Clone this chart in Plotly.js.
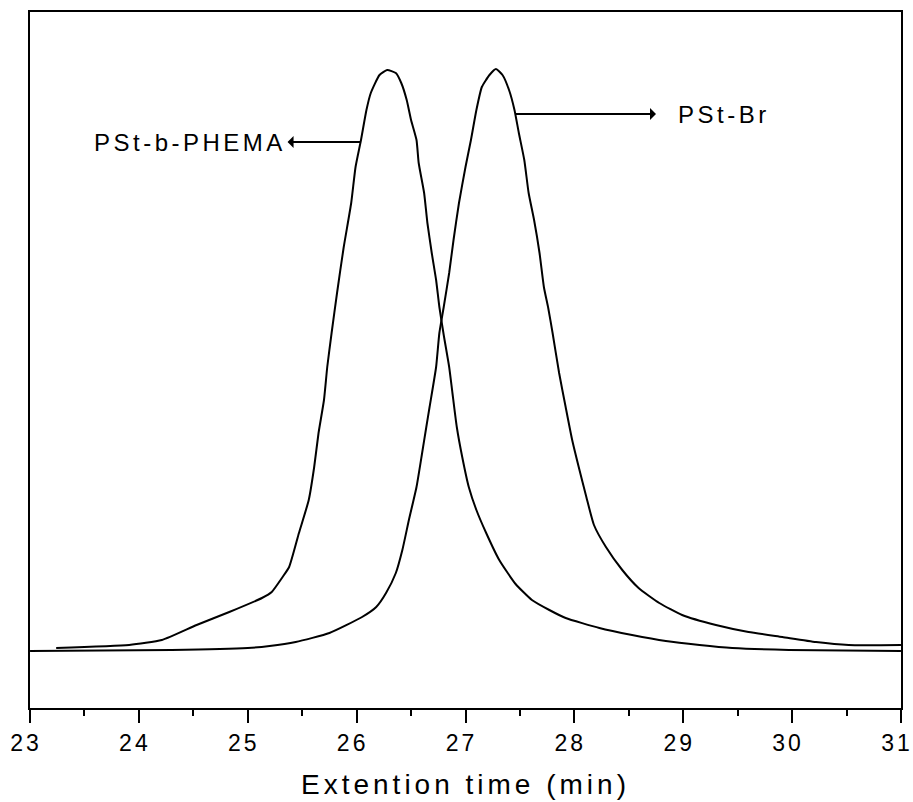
<!DOCTYPE html>
<html>
<head>
<meta charset="utf-8">
<script src="https://cdn.plot.ly/plotly-3.0.1.min.js"></script>
<style>
  html, body { margin: 0; padding: 0; background: #fff; }
  #chart { width: 913px; height: 802px; }
  .xtick text { letter-spacing: 3px; }
  .xtitle { letter-spacing: 4px; }
  .annotation-text { letter-spacing: 3.5px; }
</style>
</head>
<body>
<div id="chart"></div>
<script>
// PSt-b-PHEMA trace (elution time in min, detector response in arbitrary units)
const phemaTime = [23.24, 23.91, 24.21, 24.53, 24.83, 25.13, 25.22, 25.32, 25.38, 25.47, 25.56, 25.61, 25.65, 25.70, 25.73, 25.77, 25.82, 25.88, 25.95, 25.99, 26.04, 26.09, 26.13, 26.21, 26.28, 26.36, 26.41, 26.46, 26.50, 26.55, 26.57, 26.62, 26.65, 26.69, 26.73, 26.76, 26.80, 26.85, 26.88, 26.92, 26.97, 27.03, 27.10, 27.19, 27.31, 27.46, 27.61, 27.77, 27.92, 28.23, 28.53, 28.84, 29.15, 29.45, 29.97, 31.00];
const phemaSignal = [60, 63, 68, 83, 96, 110, 116, 131, 141, 175, 208, 241, 275, 308, 341, 375, 415, 460, 505, 541, 568, 598, 615, 633, 638, 635, 625, 608, 588, 568, 545, 515, 485, 455, 428, 401, 373, 341, 315, 281, 251, 221, 198, 175, 148, 124, 108, 98, 90, 80, 73, 67, 63, 60, 58, 57];

// PSt-Br trace
const brTime = [23.00, 24.30, 25.00, 25.20, 25.44, 25.75, 26.05, 26.18, 26.27, 26.36, 26.42, 26.48, 26.55, 26.60, 26.64, 26.67, 26.73, 26.76, 26.80, 26.85, 26.89, 26.94, 27.00, 27.05, 27.10, 27.15, 27.22, 27.28, 27.34, 27.40, 27.45, 27.49, 27.54, 27.58, 27.63, 27.68, 27.72, 27.76, 27.80, 27.86, 27.92, 27.98, 28.04, 28.11, 28.18, 28.29, 28.44, 28.59, 28.78, 28.99, 29.30, 29.60, 29.91, 30.22, 30.52, 31.00];
const brSignal = [57, 58, 60, 62, 66, 75, 91, 101, 115, 135, 158, 188, 221, 254, 281, 301, 341, 375, 401, 435, 468, 505, 541, 568, 598, 621, 633, 639, 633, 618, 598, 575, 548, 515, 488, 455, 421, 400, 375, 335, 301, 268, 241, 211, 183, 161, 138, 120, 105, 93, 83, 76, 71, 66, 63, 63];

// Axis ticks and labels
const tickValues = [23, 24, 25, 26, 27, 28, 29, 30, 31];
const tickLabels = ['23', '24', '25', '26', '27', '28', '29', '30', '31'];
const xTitle = 'Extention time (min)';

// Curve labels: text, point on curve (x, y), label x position
const labelNames = ['PSt-b-PHEMA', 'PSt-Br'];
const labelPointX = [26.04, 27.46];
const labelPointY = [566, 594];
const labelTextX = [24.47, 29.37];
const labelGap = [0, 20];

const font = 'Liberation Sans, Arial, sans-serif';

const traces = [
  { x: phemaTime, y: phemaSignal, mode: 'lines', name: 'PSt-b-PHEMA',
    line: { color: '#000', width: 2, shape: 'spline', smoothing: 0.5 } },
  { x: brTime, y: brSignal, mode: 'lines', name: 'PSt-Br',
    line: { color: '#000', width: 2, shape: 'spline', smoothing: 0.5 } }
];

const annotations = labelNames.map((t, i) => ({
  x: labelPointX[i], y: labelPointY[i], xref: 'x', yref: 'y',
  ax: labelTextX[i], ay: labelPointY[i], axref: 'x', ayref: 'y',
  text: t, showarrow: true, arrowside: 'start', arrowhead: 2,
  arrowsize: 1, arrowwidth: 2, arrowcolor: '#000',
  startstandoff: labelGap[i],
  font: { family: font, size: 24, color: '#000' }
}));

const layout = {
  width: 913, height: 802,
  margin: { l: 30, r: 12, t: 12, b: 94 },
  paper_bgcolor: '#fff', plot_bgcolor: '#fff',
  showlegend: false,
  xaxis: {
    range: [22.9995, 31.0005], tickvals: tickValues, ticktext: tickLabels,
    ticks: 'outside', ticklen: 13, tickwidth: 2, tickcolor: '#000',
    ticklabeloverflow: 'allow', ticklabelshift: -4,
    minor: { dtick: 0.5, ticks: 'outside', ticklen: 6, tickwidth: 2, tickcolor: '#000' },
    showline: true, linewidth: 2, linecolor: '#000', mirror: true,
    showgrid: false, zeroline: false,
    tickfont: { family: font, size: 23, color: '#000' },
    title: { text: xTitle, font: { family: font, size: 28, color: '#000' }, standoff: 20 }
  },
  yaxis: {
    range: [0, 696], showticklabels: false, ticks: '',
    showline: true, linewidth: 2, linecolor: '#000', mirror: true,
    showgrid: false, zeroline: false
  },
  annotations: annotations
};

Plotly.newPlot('chart', traces, layout, { displayModeBar: false, staticPlot: true });
</script>
</body>
</html>
